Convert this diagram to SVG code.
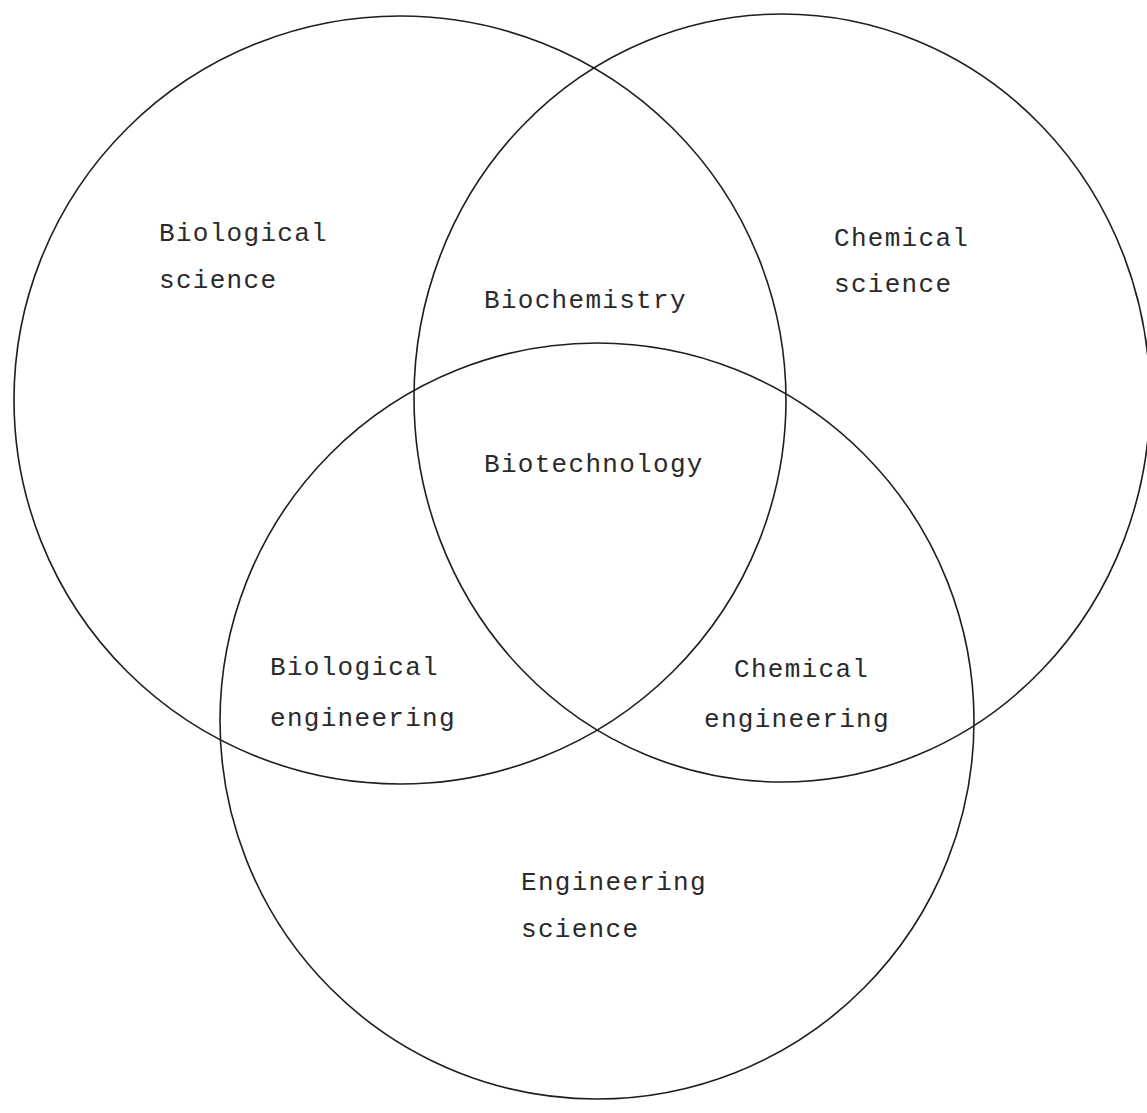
<svg xmlns="http://www.w3.org/2000/svg" width="1147" height="1113" viewBox="0 0 1147 1113">
<style>
.c{fill:none;stroke:#1e1e1e;stroke-width:1.6}
.t{font-family:"Liberation Mono","DejaVu Sans Mono",monospace;font-size:26px;letter-spacing:1.3px;fill:#2a2a2a}
</style>
<rect width="1147" height="1113" fill="#ffffff"/>
<g id="connectors"></g>
<g id="biological-science">
<ellipse class="c" cx="400" cy="400" rx="386" ry="384"/>
<text class="t" x="159" y="241">Biological</text>
<text class="t" x="159" y="288">science</text>
</g>
<g id="chemical-science">
<ellipse class="c" cx="782" cy="398" rx="368" ry="384"/>
<text class="t" x="834" y="246">Chemical</text>
<text class="t" x="834" y="292">science</text>
</g>
<g id="engineering-science">
<ellipse class="c" cx="597" cy="721" rx="377" ry="378"/>
<text class="t" x="521" y="890">Engineering</text>
<text class="t" x="521" y="937">science</text>
</g>
<g id="biochemistry">
<text class="t" x="484" y="308">Biochemistry</text>
</g>
<g id="biotechnology">
<text class="t" x="484" y="472">Biotechnology</text>
</g>
<g id="biological-engineering">
<text class="t" x="270" y="675">Biological</text>
<text class="t" x="270" y="726">engineering</text>
</g>
<g id="chemical-engineering">
<text class="t" x="734" y="677">Chemical</text>
<text class="t" x="704" y="727">engineering</text>
</g>
</svg>
